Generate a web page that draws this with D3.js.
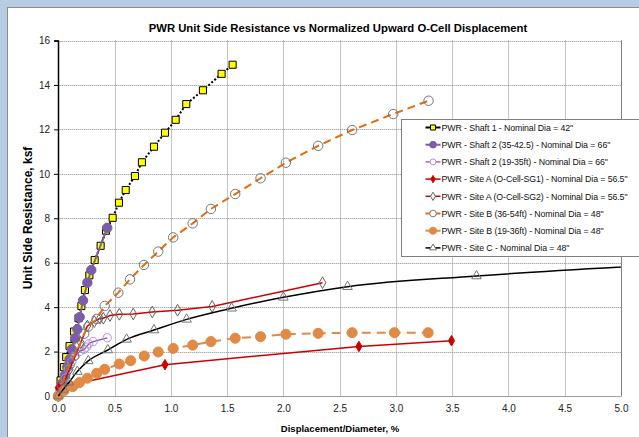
<!DOCTYPE html>
<html>
<head>
<meta charset="utf-8">
<script src="https://cdn.jsdelivr.net/npm/d3@7"></script>
<style>
  body { margin: 0; background: #b8cce4; }
  svg { display: block; font-family: "Liberation Sans", Arial, sans-serif; }
</style>
</head>
<body>
<svg id="chart" width="639" height="437"></svg>
<script>
// data: [displacement/diameter %, unit side resistance ksf]
var shaft1 = [[0,0],[0.02,0.7],[0.05,1.3],[0.07,1.75],[0.10,2.25],[0.14,2.9],[0.18,3.5],[0.205,4.05],[0.237,4.77],[0.276,5.43],[0.323,6.12],[0.376,6.76],[0.424,7.44],[0.483,8.02],[0.539,8.70],[0.599,9.27],[0.681,9.90],[0.743,10.52],[0.850,11.22],[0.948,11.85],[1.043,12.43],[1.137,13.14],[1.285,13.76],[1.451,14.50],[1.549,14.91]]
var shaft2a = [[0,0],[0.02,0.3],[0.04,0.6],[0.06,0.95],[0.08,1.3],[0.10,1.65],[0.12,2.1],[0.15,2.6],[0.17,3.0],[0.19,3.55],[0.22,4.3],[0.258,5.1],[0.293,5.67],[0.435,7.57]]
var shaft2b = [[0,0],[0.03,0.4],[0.06,0.8],[0.09,1.2],[0.12,1.55],[0.15,1.8],[0.19,2.0],[0.23,2.1],[0.25,2.2],[0.27,2.35],[0.31,2.45],[0.435,2.62]]
var siteA1 = [[0,0.38],[0.948,1.41],[2.671,2.23],[3.494,2.49]]
var siteA2 = [[0,0],[0.1,1.2],[0.2,2.4],[0.258,3.15],[0.32,3.35],[0.37,3.5],[0.40,3.5],[0.459,3.62],[0.542,3.68],[0.666,3.69],[0.835,3.78],[1.06,3.86],[1.367,4.03],[2.348,5.10]]
var siteB1 = [[0,0],[0.03,0.5],[0.06,0.9],[0.1,1.4],[0.14,1.8],[0.187,2.26],[0.23,2.8],[0.266,3.12],[0.341,3.47],[0.412,4.05],[0.533,4.65],[0.637,5.25],[0.761,5.9],[0.888,6.5],[1.021,7.14],[1.194,7.77],[1.356,8.42],[1.572,9.09],[1.797,9.8],[2.022,10.5],[2.309,11.26],[2.611,11.97],[2.976,12.69],[3.29,13.29]]
var siteB2 = [[0,0],[0.05,0.24],[0.128,0.42],[0.187,0.6],[0.258,0.8],[0.341,1.02],[0.412,1.2],[0.542,1.44],[0.643,1.59],[0.764,1.8],[0.888,1.98],[1.021,2.14],[1.194,2.29],[1.356,2.45],[1.572,2.6],[1.797,2.67],[2.022,2.78],[2.309,2.82],[2.611,2.85],[2.987,2.85],[3.286,2.85]]
var siteC = [[0,0],[0.045,0.3],[0.095,0.62],[0.169,1.1],[0.266,1.58],[0.44,2.07],[0.607,2.55],[0.85,2.97],[1.14,3.45],[1.54,3.95],[2.0,4.44],[2.57,4.92],[3.716,5.40],[5.5,5.94]]

var seriesNames = [
  'PWR - Shaft 1 - Nominal Dia = 42"',
  'PWR - Shaft 2 (35-42.5) - Nominal Dia = 66"',
  'PWR - Shaft 2 (19-35ft) - Nominal Dia = 66"',
  'PWR - Site A (O-Cell-SG1) - Nominal Dia = 56.5"',
  'PWR - Site A (O-Cell-SG2) - Nominal Dia = 56.5"',
  'PWR - Site B (36-54ft) - Nominal Dia = 48"',
  'PWR - Site B (19-36ft) - Nominal Dia = 48"',
  'PWR - Site C - Nominal Dia = 48"'
]
var xTicks = [0, 0.5, 1, 1.5, 2, 2.5, 3, 3.5, 4, 4.5, 5]
var yTicks = [0, 2, 4, 6, 8, 10, 12, 14, 16]

// styles per series (same order as names)
var styles = [
  {data: shaft1, line: '#000', width: 2, dash: '2,2', marker: d3.symbolSquare, size: 50, fill: '#ffff00', stroke: '#000'},
  {data: shaft2a, line: '#7b5ea7', width: 2, dash: null, marker: d3.symbolCircle, size: 70, fill: '#7b5ea7', stroke: '#7b5ea7'},
  {data: shaft2b, line: '#8a4fc8', width: 1.3, dash: null, marker: d3.symbolCircle, size: 55, fill: 'none', stroke: '#b690e0'},
  {data: siteA1, line: '#cc0000', width: 1.5, dash: null, marker: d3.symbolDiamond, size: 32, fill: '#cc0000', stroke: '#cc0000'},
  {data: siteA2, line: '#cc0000', width: 1.5, dash: null, marker: d3.symbolDiamond, size: 40, fill: 'none', stroke: '#666'},
  {data: siteB1, line: '#e46c0a', width: 2, dash: '8,5', marker: d3.symbolCircle, size: 70, fill: 'none', stroke: '#777'},
  {data: siteB2, line: '#e08a45', width: 2, dash: '9,6', marker: d3.symbolCircle, size: 80, fill: '#e08a45', stroke: '#e08a45'},
  {data: siteC, line: '#000', width: 1.5, dash: null, marker: d3.symbolTriangle, size: 40, fill: 'none', stroke: '#777', smooth: true}
]

var svg = d3.select('#chart')

// chart area
svg.append('rect').attr('x', 7.5).attr('y', 7.5).attr('width', 660).attr('height', 460)
  .attr('fill', '#fff').attr('stroke', '#8c8c8c')

var x = d3.scaleLinear().domain([0, 5]).range([58.3, 621])
var y = d3.scaleLinear().domain([0, 16]).range([396, 40.5])

svg.append('text').attr('x', 338).attr('y', 32).attr('text-anchor', 'middle')
  .attr('font-size', 11.3).attr('font-weight', 'bold').text('PWR Unit Side Resistance vs Normalized Upward O-Cell Displacement')

// grid
var grid = svg.append('g').attr('stroke', '#8a8a8a').attr('stroke-dasharray', '1,1').attr('stroke-width', 1)
xTicks.forEach(function(t){
  grid.append('line').attr('x1', Math.round(x(t)) + 0.5).attr('x2', Math.round(x(t)) + 0.5).attr('y1', y(16)).attr('y2', y(0))
})
yTicks.forEach(function(t){
  grid.append('line').attr('x1', x(0)).attr('x2', x(5)).attr('y1', Math.round(y(t)) + 0.5).attr('y2', Math.round(y(t)) + 0.5)
})
svg.append('line').attr('x1', Math.round(x(5)) + 0.5).attr('x2', Math.round(x(5)) + 0.5)
  .attr('y1', y(16)).attr('y2', y(0)).attr('stroke', '#808080')

// axes
var yAxis = svg.append('g').attr('transform', 'translate(' + Math.round(x(0)) + ',0)')
  .call(d3.axisLeft(y).tickValues(yTicks).tickSize(4).tickPadding(4))
yAxis.select('.domain').attr('stroke', '#000').attr('stroke-width', 1.5)
yAxis.selectAll('.tick line').attr('stroke', '#000')
yAxis.selectAll('text').attr('font-size', 10).attr('fill', '#222').attr('font-family', 'Liberation Sans, Arial')

var xAxis = svg.append('g').attr('transform', 'translate(0,' + Math.round(y(0)) + ')')
  .call(d3.axisBottom(x).tickValues(xTicks).tickFormat(d3.format('.1f')).tickSize(0).tickPadding(9))
xAxis.select('.domain').attr('stroke', '#8a8a8a').attr('stroke-dasharray', '1,1')
xAxis.selectAll('text').attr('font-size', 10).attr('fill', '#222').attr('font-family', 'Liberation Sans, Arial')

svg.append('text').attr('transform', 'translate(32,218) rotate(-90)').attr('text-anchor', 'middle')
  .attr('font-size', 12).attr('font-weight', 'bold').text('Unit Side Resistance, ksf')
svg.append('text').attr('x', 340).attr('y', 432).attr('text-anchor', 'middle')
  .attr('font-size', 9.5).attr('font-weight', 'bold').text('Displacement/Diameter, %')

// series
svg.append('clipPath').attr('id', 'clip').append('rect')
  .attr('x', x(0) - 6).attr('y', y(16) - 6).attr('width', x(5) - x(0) + 6).attr('height', y(0) - y(16) + 12)

var plot = svg.append('g').attr('clip-path', 'url(#clip)')

styles.forEach(function(s){
  var line = d3.line().x(function(d){ return x(d[0]) }).y(function(d){ return y(d[1]) })
  if (s.smooth) line.curve(d3.curveMonotoneX)
  plot.append('path').attr('d', line(s.data)).attr('fill', 'none')
    .attr('stroke', s.line).attr('stroke-width', s.width).attr('stroke-dasharray', s.dash)
  plot.selectAll(null).data(s.data.filter(function(d){ return d[0] <= 5 })).enter().append('path')
    .attr('d', d3.symbol().type(s.marker).size(s.size))
    .attr('transform', function(d){ return 'translate(' + x(d[0]) + ',' + y(d[1]) + ')' })
    .attr('fill', s.fill).attr('stroke', s.stroke).attr('stroke-width', 1)
})

// legend
var lg = svg.append('g').attr('transform', 'translate(401.5,119.5)')
lg.append('rect').attr('width', 260).attr('height', 137).attr('fill', '#fff').attr('stroke', '#808080')
styles.forEach(function(s, i){
  var row = lg.append('g').attr('transform', 'translate(0,' + (8 + i * 17.2) + ')')
  row.append('line').attr('x1', 24).attr('x2', 39).attr('stroke', s.line).attr('stroke-width', s.width)
  row.append('path').attr('d', d3.symbol().type(s.marker).size(s.size * 0.5)).attr('transform', 'translate(31.5,0)')
    .attr('fill', s.fill == 'none' ? '#fff' : s.fill).attr('stroke', s.stroke)
  row.append('text').attr('x', 40).attr('y', 3.3).attr('font-size', 8.8).attr('letter-spacing', -0.1)
    .attr('fill', '#111').text(seriesNames[i])
})
</script>
</body>
</html>
